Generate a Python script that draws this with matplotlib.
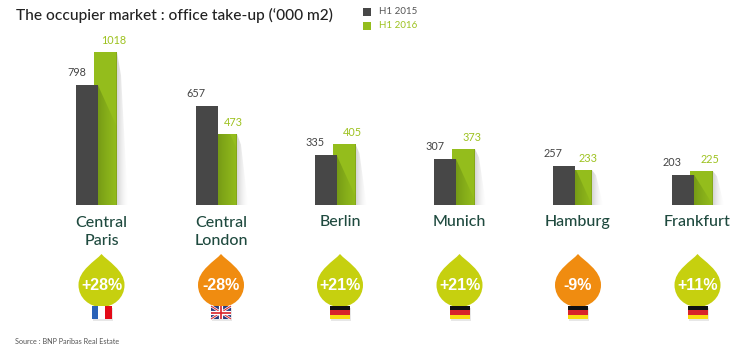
import numpy as np
import matplotlib
matplotlib.use("Agg")
import matplotlib.pyplot as plt
from matplotlib.colors import LinearSegmentedColormap
from matplotlib.patches import PathPatch, Polygon, Rectangle
from matplotlib.path import Path

cities = ["Central\nParis", "Central\nLondon", "Berlin", "Munich", "Hamburg", "Frankfurt"]
h1_2015 = [798, 657, 335, 307, 257, 203]
h1_2016 = [1018, 473, 405, 373, 233, 225]
changes = ["+28%", "-28%", "+21%", "+21%", "-9%", "+11%"]
flags = ["fr", "uk", "de", "de", "de", "de"]
series_names = ["H1 2015", "H1 2016"]

# group centres in pixels
centres = [101.5, 221, 340, 459.5, 578, 697.5]

DARK = "#474747"
GREEN = "#94bd1c"
LIME = "#c6d00f"
ORANGE = "#f08c10"
TEAL = "#1f4a3f"
PX = 0.15  # pixels per '000 m2
BASE = 205

plt.rcParams["font.family"] = ["Lato", "DejaVu Sans"]

fig = plt.figure(figsize=(7.5, 3.54), dpi=100)

# pixel axes for all decoration
bg = fig.add_axes([0, 0, 1, 1])
bg.set_xlim(0, 750)
bg.set_ylim(354, 0)
bg.axis("off")

# bar axes, x in pixels, y in data units
ax = fig.add_axes([0, (354 - BASE) / 354, 1, BASE / 354])
ax.patch.set_alpha(0)
ax.axis("off")

x_dark = np.array(centres) - 25.5
x_green = x_dark + 18
dark_w = 22
green_w = 23
x_green[1] -= 0.5
x_green[4] -= 0.5
widths = [green_w, 24, green_w, green_w, 22, green_w]

fade_grey = LinearSegmentedColormap.from_list("fg", [(0.72, 0.72, 0.72, 0.6), (0.9, 0.9, 0.9, 0)])
fade_green = LinearSegmentedColormap.from_list("fd", [(0.3, 0.42, 0.05, 0.42), (0.4, 0.55, 0.08, 0.04)])
grad = np.linspace(0, 1, 64).reshape(1, -1)

for i in range(len(cities)):
    d = h1_2015[i]
    g = h1_2016[i]
    xd = x_dark[i]
    xg = x_green[i]
    gw = widths[i]
    dr = xd + dark_w
    gr = xg + gw

    ax.bar(xg, g, gw, align="edge", color=GREEN, zorder=2)
    ax.bar(gr - 1, g, 1, align="edge", color="#86a81a", zorder=3)
    ax.bar(xd, d, dark_w, align="edge", color=DARK, zorder=5)

    # grey shadow falling right of the green bar
    poly = Polygon([(gr, g), (gr + 4, g * 0.85), (gr + 11, 0), (gr, 0)], transform=ax.transData, fc="none", ec="none")
    ax.add_patch(poly)
    im = ax.imshow(grad, extent=(gr, gr + 11, 0, g), cmap=fade_grey, aspect="auto", zorder=1)
    im.set_clip_path(poly)

    # darker shadow the grey bar throws on the green one
    top = min(d, g)
    drop = max(d - (gr - dr) * 2.2 / PX, 0)
    poly2 = Polygon([(dr, top), (dr + (d - top) * PX / 2.2, top), (gr, min(drop, top)), (gr, 0), (dr, 0)],
                    transform=ax.transData, fc="none", ec="none")
    ax.add_patch(poly2)
    im2 = ax.imshow(grad, extent=(dr, gr, 0, top), cmap=fade_green, aspect="auto", zorder=4)
    im2.set_clip_path(poly2)

    ax.text(xd + 0.5, d + 12.5 / PX, str(d), ha="center", va="center", fontsize=7.8, color="#444444", zorder=6)
    ax.text(gr - 3.5, g + 11.5 / PX, str(g), ha="center", va="center", fontsize=7.8, color="#9dc21f", zorder=6)

ax.set_xlim(0, 750)
ax.set_ylim(0, BASE / PX)

# title, legend, source
bg.text(16, 15, "The occupier market : office take-up (\u2018000 m2)", fontsize=11.2, color="#222222",
        ha="left", va="center", fontweight="medium")
for y, c, tc, name in zip([12, 26], [DARK, GREEN], ["#555555", "#9dc21f"], series_names):
    bg.add_patch(Rectangle((363, y - 4), 8, 8, fc=c, ec="none"))
    bg.text(379, y, name, fontsize=7, color=tc, ha="left", va="center")
bg.text(15, 341, "Source : BNP Paribas Real Estate", fontsize=5.2, color="#555555", ha="left", va="center")


def drop_path(cx):
    verts = [(cx, 254),
             (cx + 6, 261), (cx + 23, 270), (cx + 23, 285),
             (cx + 23, 298), (cx + 12, 307), (cx, 307),
             (cx - 12, 307), (cx - 23, 298), (cx - 23, 285),
             (cx - 23, 270), (cx - 6, 261), (cx, 254)]
    codes = [Path.MOVETO] + [Path.CURVE4] * 12
    return Path(verts, codes)


def draw_flag(kind, cx):
    left = cx - 10
    top = 306
    w = 20
    h = 13
    # soft shadow
    bg.add_patch(Rectangle((left + 1, top + 2), w, h, fc="#bbbbbb", alpha=0.35, ec="none", zorder=3))
    if kind == "fr":
        for k, c in enumerate(["#2a62b8", "#ffffff", "#e30a17"]):
            bg.add_patch(Rectangle((left + k * w / 3, top), w / 3, h, fc=c, ec="none", zorder=4))
    elif kind == "de":
        for k, c in enumerate(["#111111", "#d8232a", "#f9dc12"]):
            bg.add_patch(Rectangle((left, top + k * h / 3), w, h / 3, fc=c, ec="none", zorder=4))
    else:
        bg.add_patch(Rectangle((left, top), w, h, fc="#2a3a7c", ec="none", zorder=4))
        for lw, c in [(3, "#ffffff"), (1.2, "#d8232a")]:
            bg.plot([left, left + w], [top, top + h], color=c, lw=lw * 0.6, zorder=5, solid_capstyle="butt")
            bg.plot([left, left + w], [top + h, top], color=c, lw=lw * 0.6, zorder=5, solid_capstyle="butt")
            bg.plot([left, left + w], [top + h / 2, top + h / 2], color=c, lw=lw, zorder=6, solid_capstyle="butt")
            bg.plot([cx, cx], [top, top + h], color=c, lw=lw, zorder=6, solid_capstyle="butt")


for i, cx in enumerate(centres):
    bg.text(cx, 222 if "\n" not in cities[i] else 232, cities[i], fontsize=11.5, color=TEAL,
            ha="center", va="center", linespacing=1.4, fontweight="medium")
    col = ORANGE if changes[i].startswith("-") else LIME
    bg.add_patch(PathPatch(drop_path(cx), fc=col, ec="none", zorder=2))
    bg.text(cx, 286, changes[i], fontsize=11.5, color="white", ha="center", va="center", fontweight="bold",
            family=["Liberation Sans", "DejaVu Sans"], zorder=3)
    draw_flag(flags[i], cx)

fig.savefig("out.png", dpi=100)
